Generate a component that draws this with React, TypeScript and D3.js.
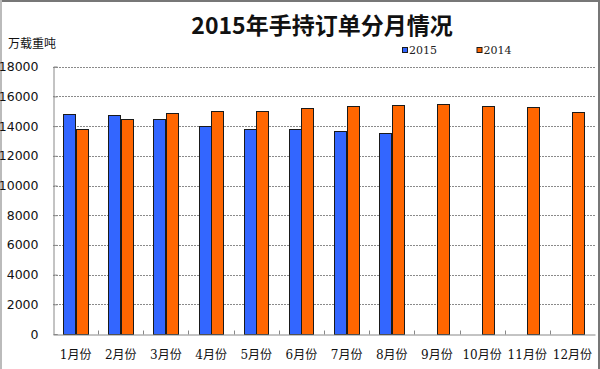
import { useRef, useEffect } from "react";
import * as d3 from "d3";

const months = ["1月份", "2月份", "3月份", "4月份", "5月份", "6月份", "7月份", "8月份", "9月份", "10月份", "11月份", "12月份"];
const seriesNames = ["2015", "2014"];
const values2015 = [14800, 14750, 14500, 14000, 13830, 13830, 13690, 13510, null, null, null, null];
const values2014 = [13780, 14500, 14860, 15020, 15020, 15200, 15350, 15420, 15500, 15370, 15260, 14930];
const yTicks = [0, 2000, 4000, 6000, 8000, 10000, 12000, 14000, 16000, 18000];
const colors = ["#3366FF", "#FF6600"];

const OrderChart = () => {
    const svgRef = useRef<SVGSVGElement>(null);

    useEffect(() => {
        if (!svgRef.current) return;
        const svg = d3.select(svgRef.current);
        svg.selectAll("*").remove();

        const W = 600;
        const H = 369;
        const left = 53, right = 595, top = 66.7, bottom = 334;

        const x = d3.scaleBand().domain(months).range([left, right]).paddingInner(0.447).paddingOuter(0.2235);
        const xs = d3.scaleBand().domain(seriesNames).range([0, x.bandwidth()]);
        const y = d3.scaleLinear().domain([0, 18000]).range([bottom, top]);

        svg.append("rect").attr("width", W).attr("height", H).attr("fill", "#fff");

        // outer frame
        svg.append("line").attr("x1", 0).attr("x2", W).attr("y1", 1).attr("y2", 1).attr("stroke", "#777").attr("stroke-width", 2);
        svg.append("line").attr("x1", 1).attr("x2", 1).attr("y1", 0).attr("y2", H).attr("stroke", "#bbb").attr("stroke-width", 2);
        svg.append("line").attr("x1", 599).attr("x2", 599).attr("y1", 0).attr("y2", H).attr("stroke", "#777").attr("stroke-width", 2);

        // gridlines
        svg.append("g")
            .selectAll("line")
            .data(yTicks.filter((d) => d > 0))
            .join("line")
            .attr("x1", left)
            .attr("x2", right)
            .attr("y1", (d) => Math.round(y(d)) + 0.5)
            .attr("y2", (d) => Math.round(y(d)) + 0.5)
            .attr("stroke", "#8a8a8a")
            .attr("stroke-dasharray", "2,1");

        // bars
        const series = [values2015, values2014];
        series.forEach((vals, si) => {
            svg.append("g")
                .selectAll("rect")
                .data(months.map((m, i) => ({ m, v: vals[i] })).filter((d) => d.v != null))
                .join("rect")
                .attr("x", (d) => Math.round(x(d.m)! + xs(seriesNames[si])!) + 0.5)
                .attr("y", (d) => Math.round(y(d.v as number)) + 0.5)
                .attr("width", Math.round(xs.bandwidth()))
                .attr("height", (d) => Math.round(bottom) - Math.round(y(d.v as number)))
                .attr("fill", colors[si])
                .attr("stroke", "#1a1a1a")
                .attr("stroke-width", 1);
        });

        // axes
        const yAxis = svg.append("g").attr("transform", `translate(${left + 0.5},0)`)
            .call(d3.axisLeft(y).tickValues(yTicks).tickSize(-4).tickPadding(15).tickFormat((d) => String(d)));
        yAxis.select(".domain").attr("stroke", "#888");
        yAxis.selectAll(".tick line").attr("stroke", "#888");
        yAxis.selectAll("text").attr("font-family", "DejaVu Sans, sans-serif").attr("font-size", 12.5).attr("fill", "#111");

        const xAxis = svg.append("g").attr("transform", `translate(0,${Math.round(bottom) + 0.5})`)
            .call(d3.axisBottom(x).tickSize(0).tickPadding(16));
        xAxis.select(".domain").attr("stroke", "#888");
        xAxis.selectAll("text").attr("font-family", "DejaVu Serif, Noto Sans CJK SC, serif").attr("font-size", 12).attr("fill", "#111");
        // category separators
        xAxis.append("g")
            .selectAll("line")
            .data(months.slice(1))
            .join("line")
            .attr("x1", (d) => Math.round(x(d)! - (x.step() - x.bandwidth()) / 2) + 0.5)
            .attr("x2", (d) => Math.round(x(d)! - (x.step() - x.bandwidth()) / 2) + 0.5)
            .attr("y1", -4)
            .attr("y2", 0)
            .attr("stroke", "#888");

        // title
        svg.append("text")
            .attr("x", 322)
            .attr("y", 34)
            .attr("text-anchor", "middle")
            .attr("font-family", "Noto Sans CJK SC, sans-serif")
            .attr("font-weight", "bold")
            .attr("font-size", 23)
            .attr("fill", "#111")
            .text("2015年手持订单分月情况");

        // unit
        svg.append("text")
            .attr("x", 8)
            .attr("y", 48)
            .attr("font-family", "Noto Sans CJK SC, sans-serif")
            .attr("font-size", 12)
            .attr("fill", "#111")
            .text("万载重吨");

        // legend
        const legendX = [402, 476.5];
        const legend = svg.append("g")
            .selectAll("g")
            .data(seriesNames)
            .join("g")
            .attr("transform", (_, i) => `translate(${legendX[i]},47)`);
        legend.append("rect")
            .attr("x", 0.5)
            .attr("y", 0.5)
            .attr("width", 5)
            .attr("height", 5)
            .attr("fill", (_, i) => colors[i])
            .attr("stroke", "#1a1a1a");
        legend.append("text")
            .attr("x", 7)
            .attr("y", 7)
            .attr("font-family", "DejaVu Serif, serif")
            .attr("font-size", 11)
            .attr("fill", "#222")
            .text((d) => d);

        svg.attr("width", W).attr("height", H).attr("viewBox", [0, 0, W, H]);
    }, []);

    return <svg ref={svgRef} style={{ position: "absolute", left: 0, top: 0 }} />;
};

export default function App() {
    return <OrderChart />;
}
